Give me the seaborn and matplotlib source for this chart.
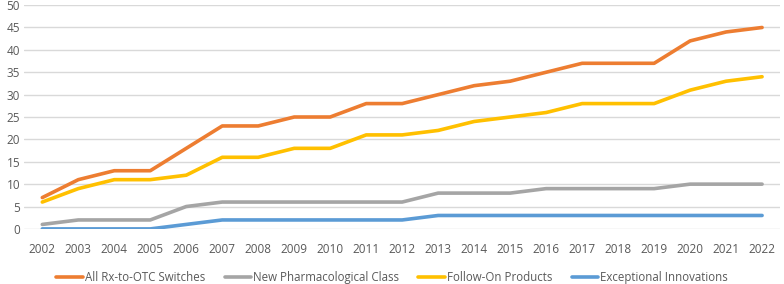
import matplotlib
matplotlib.use("Agg")
import matplotlib.pyplot as plt
import seaborn as sns
import pandas as pd
from matplotlib.lines import Line2D

years = list(range(2002, 2023))
all_switches = [7, 11, 13, 13, 18, 23, 23, 25, 25, 28, 28, 30, 32, 33, 35, 37, 37, 37, 42, 44, 45]
new_class = [1, 2, 2, 2, 5, 6, 6, 6, 6, 6, 6, 8, 8, 8, 9, 9, 9, 9, 10, 10, 10]
follow_on = [6, 9, 11, 11, 12, 16, 16, 18, 18, 21, 21, 22, 24, 25, 26, 28, 28, 28, 31, 33, 34]
exceptional = [0, 0, 0, 0, 1, 2, 2, 2, 2, 2, 2, 3, 3, 3, 3, 3, 3, 3, 3, 3, 3]
series_names = ["All Rx-to-OTC Switches", "New Pharmacological Class",
                "Follow-On Products", "Exceptional Innovations"]
colors = ["#ED7D31", "#A5A5A5", "#FFC000", "#5B9BD5"]

rows = []
for name, vals in zip(series_names, [all_switches, new_class, follow_on, exceptional]):
    for y, v in zip(years, vals):
        rows.append({"Year": y, "Count": v, "Series": name})
df = pd.DataFrame(rows)

sns.set_style("white")
plt.rcParams["font.family"] = ["Open Sans", "DejaVu Sans"]

fig = plt.figure(figsize=(7.84, 2.84), dpi=100)
ax = fig.add_axes([0.031, 0.194, 0.964, 0.788])
sns.lineplot(data=df, x="Year", y="Count", hue="Series", hue_order=series_names,
             palette=colors, linewidth=2.6, ax=ax, legend=False)

ax.set_xlim(2001.5, 2022.5)
ax.set_ylim(0, 50)
ax.set_xticks(years)
ax.set_xticklabels([str(y) for y in years])
ax.set_yticks(range(0, 51, 5))
ax.yaxis.grid(True, color="#D9D9D9", linewidth=1)
ax.set_axisbelow(True)
for s in ax.spines.values():
    s.set_visible(False)
ax.tick_params(axis="both", length=0, labelsize=8.5, colors="#595959")
ax.tick_params(axis="x", pad=10)
ax.tick_params(axis="y", pad=3)
ax.set_xlabel("")
ax.set_ylabel("")

handles = [Line2D([0], [0], color=c, linewidth=2.6) for c in colors]
fig.legend(handles, series_names, loc="center", bbox_to_anchor=(0.5, 0.022), ncol=4,
           frameon=False, fontsize=8.3, labelcolor="#595959", handlelength=2.3,
           handletextpad=0.15, columnspacing=1.7)

fig.savefig("out.png", dpi=100)
